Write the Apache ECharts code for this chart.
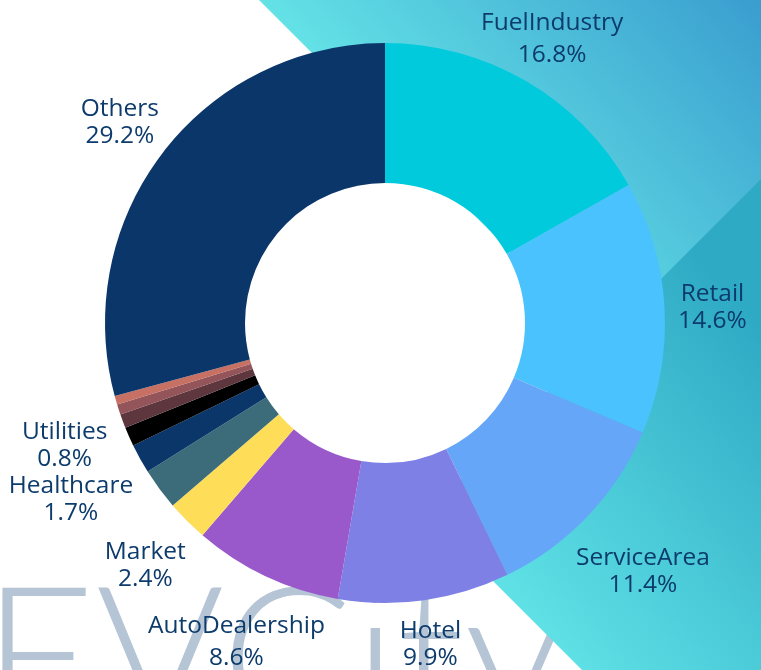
<!DOCTYPE html>
<html>
<head>
<meta charset="utf-8">
<title>EVCity</title>
<script src="https://cdn.jsdelivr.net/npm/echarts@6/dist/echarts.min.js"></script>
<style>
  html, body { margin: 0; padding: 0; background: #fff; }
  #main { width: 761px; height: 670px; }
</style>
</head>
<body>
<div id="main"></div>
<script>
// slices clockwise from 12 o'clock
var names = ['FuelIndustry', 'Retail', 'ServiceArea', 'Hotel', 'AutoDealership', 'Market',
             'Parking', 'Healthcare', 'Education', 'Utilities', 'Government', 'Residential', 'Others'];
var values = [16.8, 14.6, 11.4, 9.9, 8.6, 2.4, 2.4, 1.7, 1.1, 0.8, 0.6, 0.5, 29.2];
var colors = ['#00cadc', '#49c2fe', '#66a6f8', '#7e80e5', '#9a59cb', '#fedd59',
              '#3c6b79', '#0b3669', '#000000', '#5e363e', '#93545a', '#c77064', '#0b3669'];
// which slices carry a label in the picture, and how far out it sits
var labelled = [true, true, true, true, true, true, false, true, false, true, false, false, true];
var labelGap = [52, 48, 76, 42, 69, 59, 50, 79, 50, 62, 50, 50, 54];

var myChart = echarts.init(document.getElementById('main'));

var pieData = [];
for (var i = 0; i < names.length; i++) {
    var item = {
        name: names[i],
        value: values[i],
        itemStyle: { color: colors[i] },
        label: { show: labelled[i] },
        labelLine: { length: labelGap[i] }
    };
    if (names[i] === 'FuelIndustry' || names[i] === 'AutoDealership') {
        item.label.lineHeight = 32;
    }
    pieData.push(item);
}

var option = {
    backgroundColor: '#ffffff',
    animation: false,
    graphic: [
        {
            type: 'text',
            left: -18,
            top: 565,
            z: 0,
            silent: true,
            style: {
                text: 'EVCity',
                fontFamily: 'Lato',
                fontWeight: 300,
                fontSize: 196,
                fill: '#b5c5d5'
            }
        },
        {
            type: 'polygon',
            z: 1,
            silent: true,
            shape: { points: [[259, 0], [761, 0], [761, 502]] },
            style: {
                fill: new echarts.graphic.LinearGradient(265, 5, 538, -241, [
                    { offset: 0, color: '#63e2e6' },
                    { offset: 1, color: '#3a9ecf' }
                ], true)
            }
        },
        {
            type: 'polygon',
            z: 1,
            silent: true,
            shape: { points: [[426, 514], [761, 179], [761, 670], [582, 670]] },
            style: {
                fill: new echarts.graphic.LinearGradient(580, 670, 854, 439, [
                    { offset: 0, color: '#5ee0e5' },
                    { offset: 1, color: '#2faac5' }
                ], true)
            }
        }
    ],
    series: [
        {
            name: 'EVCity',
            type: 'pie',
            center: [385, 323],
            radius: [140, 280],
            startAngle: 90,
            avoidLabelOverlap: false,
            z: 3,
            label: {
                show: true,
                position: 'outside',
                formatter: '{b}\n{d}%',
                color: '#0c3b6c',
                fontFamily: 'Open Sans',
                fontSize: 24.5,
                lineHeight: 27,
                overflow: 'none',
                distanceToLabelLine: 0
            },
            labelLine: { show: false, length: 52, length2: 0 },
            labelLayout: function () {
                return { align: 'center', dy: 3 };
            },
            data: pieData
        }
    ]
};
myChart.setOption(option);
</script>
</body>
</html>
